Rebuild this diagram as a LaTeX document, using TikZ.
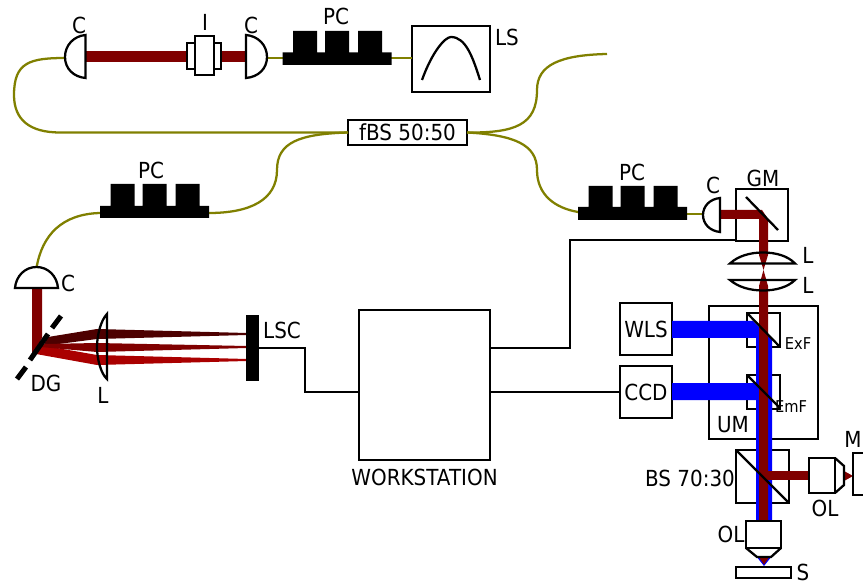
\documentclass[tikz,border=0pt]{standalone}
\usepackage{fontspec}
\setmainfont{DejaVu Sans}[FakeStretch=0.9]
\definecolor{fibre}{HTML}{808000}
\definecolor{beam}{HTML}{800000}
\definecolor{beamdark}{HTML}{4D0000}
\definecolor{beamlight}{HTML}{AA0000}
\definecolor{bluebeam}{HTML}{0000FF}
\tikzset{
  every node/.style={inner sep=0pt,outer sep=0pt},
  box/.style={draw=black,line width=1.7pt,fill=white},
  outline/.style={draw=black,line width=1.7pt,fill=white,line join=miter},
  thinline/.style={draw=black,line width=1.7pt},
  wire/.style={draw=black,line width=1.7pt},
  fibreline/.style={draw=fibre,line width=1.7pt},
  lab/.style={font=\fontsize{16.6}{19}\selectfont,text=black,yshift=-0.8pt},
  smalllab/.style={font=\fontsize{12.2}{14}\selectfont,text=black},
  solidblack/.style={fill=black,draw=none},
  redbeam/.style={fill=beam,draw=none},
  bluefill/.style={fill=bluebeam,draw=none},
}
\newcommand{\boxnode}[6]{\node[box,minimum width={(#4-#2)*0.75pt},minimum height={(#5-#3)*0.75pt}] (#1) at ({(#2+#4)/2},{(#3+#5)/2}) {#6};}
% polarisation controller: x of base left, y of base top, y of base bottom, y of tower top
\newcommand{\polctl}[4]{\fill[solidblack] (#1,#3) -- (#1,#2) -- ({#1+10.5},#2) -- ({#1+10.5},#4) -- ({#1+34.5},#4) -- ({#1+34.5},#2) -- ({#1+42.5},#2) -- ({#1+42.5},#4) -- ({#1+66.5},#4) -- ({#1+66.5},#2) -- ({#1+75.5},#2) -- ({#1+75.5},#4) -- ({#1+99.5},#4) -- ({#1+99.5},#2) -- ({#1+109},#2) -- ({#1+109},#3) -- cycle;}
\begin{document}
\begin{tikzpicture}[x=0.75pt,y=-0.75pt]
\clip (0,0) rectangle (863,584);
\fill[white] (0,0) rectangle (863,584);

% anchor points of the fibres
\coordinate (c1tip) at (66,58);
\coordinate (c2tip) at (266,58);
\coordinate (c3tip) at (36.5,268);
\coordinate (c4tip) at (703,214);
\coordinate (fibreend) at (607,54);
\coordinate (pcbL) at (209,213);
\coordinate (pcbLb) at (100,213);
\coordinate (pcrL) at (578,212);
\coordinate (pcrR) at (687,214);

\boxnode{fbs}{348}{120}{467}{145}{\fontsize{16.6}{19}\selectfont fBS 50:50}
\boxnode{ls}{412}{26}{490}{92}{}

% fibres
\draw[fibreline] (c2tip) -- (c2tip -| ls.west);
\draw[fibreline] (c1tip) .. controls (30,58) and (14,62) .. (14,95) .. controls (14,120) and (30,132.5) .. (60,132.5) -- (fbs.west);
\draw[fibreline] (fbs.east) .. controls (515,133) and (537,125) .. (537,90) .. controls (537,65) and (560,55) .. (fibreend);
\draw[fibreline] (fbs.east) .. controls (515,135) and (537,145) .. (537,170) .. controls (537,195) and (555,208) .. (pcrL);
\draw[fibreline] (fbs.west) .. controls (300,134) and (277,142) .. (277,170) .. controls (277,200) and (250,213) .. (pcbL);
\draw[fibreline] (pcbLb) .. controls (62,214) and (42,235) .. (c3tip);
\draw[fibreline] (pcrR) -- (c4tip);
\draw[thinline] (422,80) .. controls (432,52) and (445,37) .. (451,37) .. controls (466,37) and (473,58) .. (480,80);

% polarisation controllers
\polctl{282.5}{52.5}{65}{31}
\polctl{100}{206}{218}{184}
\polctl{578}{207}{220}{186}

% top beam
\fill[redbeam] (86,51) rectangle (190,62);
\fill[redbeam] (221,51) rectangle (248,62);
\boxnode{iso}{187}{43}{221}{69}{}
\boxnode{isoin}{195}{36}{214}{75}{}
\draw[outline] (85.5,35) .. controls (74,36) and (65,45) .. (65,57) .. controls (65,69) and (74,77) .. (85.5,78) -- cycle;
\draw[outline] (246,35) .. controls (258,36) and (267,45) .. (267,57) .. controls (267,69) and (258,77) .. (246,78) -- cycle;

% spectrometer
\fill[redbeam] (32,288) -- (42,288) -- (42,338) -- (32,355) -- cycle;
\fill[beamdark] (48,337) -- (97,329) -- (247,333) -- (247,335) -- (97,339) -- (43,346) -- cycle;
\fill[beamlight] (40,345) -- (97,355) -- (247,359) -- (247,361) -- (97,365) -- (36,354) -- cycle;
\fill[beam] (44,344) -- (97,343) -- (247,346) -- (247,348) -- (97,352) -- (40,347) -- cycle;
\draw[outline] (15,288) .. controls (16,276) and (25,267) .. (36.5,267) .. controls (48,267) and (57,276) .. (58,288) -- cycle;
\draw[black,line width=3.8pt] (17,379) -- (26,367);
\draw[black,line width=3.8pt] (30,360) -- (48,334);
\draw[black,line width=3.8pt] (52,328) -- (61,316);
\draw[thinline] (107,314) .. controls (101,320) and (97,335) .. (97,347) .. controls (97,359) and (101,374) .. (107,379) -- cycle;
\node[solidblack,minimum width=9.75pt,minimum height=49.5pt] (lsc) at (252.5,348) {};

\boxnode{ws}{359}{310}{490}{460}{}
\boxnode{wls}{620}{303}{672}{355}{\fontsize{16.6}{19}\selectfont WLS}
\boxnode{ccd}{620}{366}{672}{418}{\fontsize{16.6}{19}\selectfont CCD}
\boxnode{gm}{736}{189}{788}{241}{}
\boxnode{um}{709}{306}{818}{439}{}
\boxnode{exf}{747}{313}{780}{347}{}
\boxnode{emf}{747}{375}{780}{409}{}
\boxnode{bs}{736}{450}{789}{503}{}

% wires
\coordinate (wsB) at (490,348);
\draw[wire] (lsc.east) -- (305,348) -- (305,392) -- (ws.west |- ccd.west);
\draw[wire] (wsB) -- (570,348) -- (570,240) -- (736,240);
\draw[wire] (ws.east |- ccd.west) -- (ccd.west);

% blue beams
\fill[bluefill] (672,321) -- (753,321) -- (772,340) -- (772,522) -- (756,522) -- (756,338) -- (672,338) -- cycle;
\fill[bluefill] (672,383) -- (755,383) -- (772,400) -- (772,410) -- (756,410) -- (756,400) -- (672,400) -- cycle;

% red beams
\fill[redbeam] (720,210) -- (762,210) -- (768,219) -- (768,255) -- (763.5,270) -- (768,286) -- (768,522) -- (759,522) -- (759,286) -- (763.5,270) -- (759,255) -- (759,219) -- (720,219) -- cycle;
\fill[redbeam] (765,471) rectangle (810,480);
\fill[redbeam] (844,471) -- (853,476) -- (844,481) -- cycle;
\fill[bluefill] (756,556) -- (772,556) -- (764,566) -- cycle;
\fill[redbeam] (758,556) -- (770,556) -- (764,564.5) -- cycle;

% mirrors
\draw[thinline] (746,197) -- (778,230);
\draw[thinline] (747,313) -- (780,347);
\draw[thinline] (747,375) -- (780,408);
\draw[thinline] (736,450) -- (789,503);

% lenses and collimator
\draw[thinline] (730,263.5) .. controls (738,256) and (750,252.5) .. (763,252.5) .. controls (776,252.5) and (788,256) .. (795,263.5) -- cycle;
\draw[thinline] (730,280) .. controls (738,287) and (750,290.5) .. (763,290.5) .. controls (776,290.5) and (788,287) .. (795,280) -- cycle;
\draw[outline] (720,198) .. controls (710,199) and (703,206) .. (703,215) .. controls (703,224) and (710,231) .. (720,232) -- cycle;

% objectives, sample, mirror
\boxnode{olb}{746}{521}{781}{548}{}
\draw[thinline] (746,548) -- (757,557) -- (771,557) -- (781,548);
\boxnode{olr}{809}{458}{835}{493}{}
\draw[thinline] (835,458) -- (844,466) -- (844,485) -- (835,493);
\boxnode{mbox}{853}{453}{890}{495}{}
\boxnode{sample}{736}{567}{791}{578}{}

% labels
\node[lab] (tC1) at (79,24) {C};
\node[lab] (tI) at (205,21) {I};
\node[lab] (tC2) at (251,24) {C};
\node[lab] (tPC1) at (336,15) {PC};
\node[lab] (tLS) at (507,36) {LS};
\node[lab] (tPC2) at (151,169) {PC};
\node[lab] (tPC3) at (632,171) {PC};
\node[lab] (tC4) at (713,184) {C};
\node[lab] (tGM) at (763,177) {GM};
\node[lab] (tL1) at (808,254) {L};
\node[lab] (tL2) at (808,284) {L};
\node[lab] (tC3) at (68,282) {C};
\node[lab] (tDG) at (46,382) {DG};
\node[lab] (tL3) at (103,394) {L};
\node[lab] (tLSC) at (282,329) {LSC};
\node[lab] (tWS) at (424.5,476) {WORKSTATION};
\node[smalllab] (tEx) at (798,344) {ExF};
\node[smalllab] (tEm) at (791,407) {EmF};
\node[lab] (tUM) at (733,424) {UM};
\node[lab] (tBS) at (690,477) {BS 70:30};
\node[lab] (tOL1) at (825,507) {OL};
\node[lab] (tOL2) at (731,533) {OL};
\node[lab] (tS) at (803,571.5) {S};
\node[lab] (tM) at (853,438) {M};
\end{tikzpicture}
\end{document}
